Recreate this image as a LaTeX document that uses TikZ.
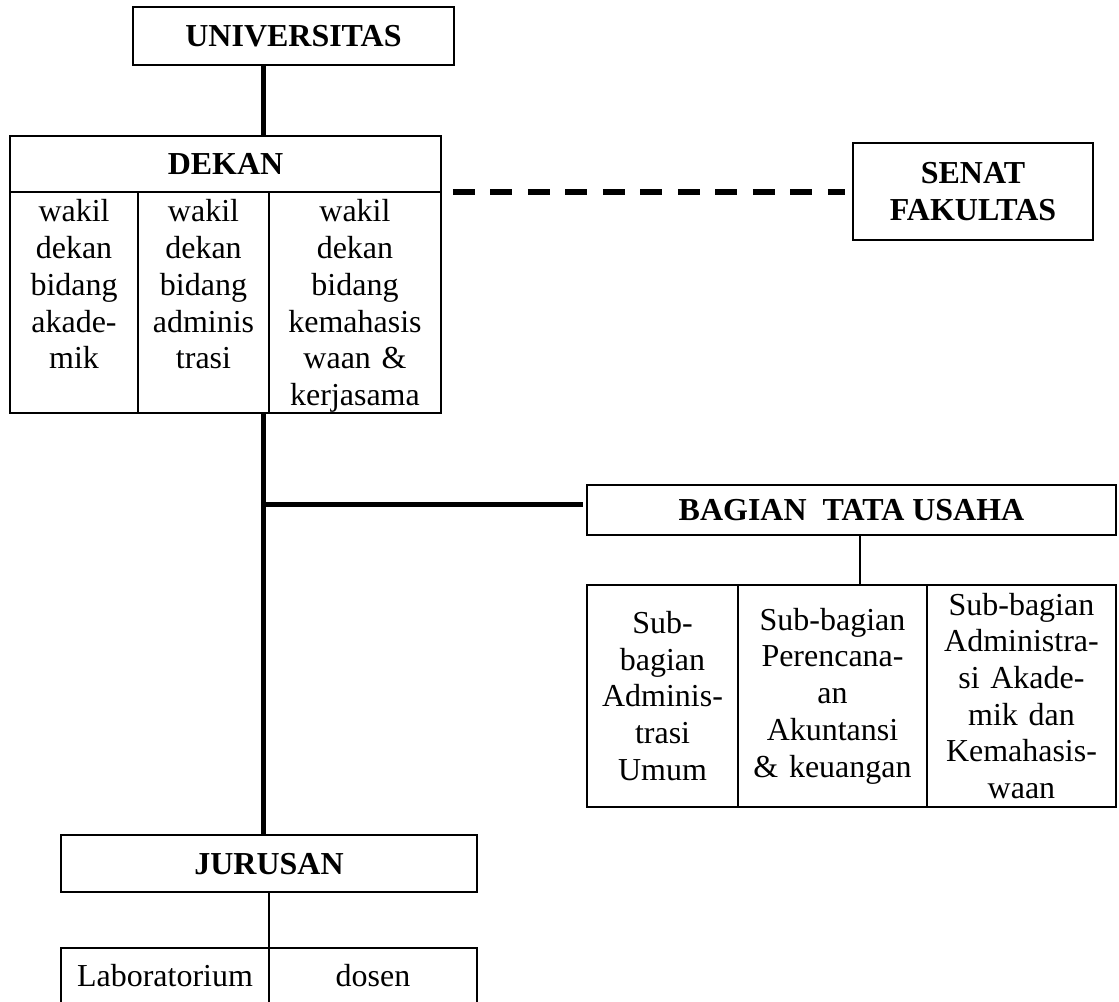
\documentclass[tikz,border=0pt]{standalone}
\usepackage{fontspec}
\setmainfont{Liberation Serif}
\usetikzlibrary{positioning}

\newcommand\orgfont{\fontsize{18.2pt}{20.9pt}\selectfont}

\tikzset{
  orgbox/.style={draw, line width=0.04cm, inner sep=0pt, outer sep=0pt, font=\orgfont\bfseries,
    text height=0.43cm, text depth=0pt},
  wakilcell/.style={draw, line width=0.04cm, inner sep=0pt, outer sep=0pt, align=center,
    anchor=north west, font=\orgfont, text height=0.6cm, text depth=3.82cm},
  subcell/.style={draw, line width=0.04cm, inner sep=0pt, outer sep=0pt, align=center,
    anchor=north west, font=\orgfont, minimum height=4.44cm},
  labcell/.style={draw, line width=0.04cm, inner sep=0pt, outer sep=0pt, align=center,
    anchor=north west, font=\orgfont, text height=0.78cm, text depth=1.2cm},
  thickline/.style={line width=0.1cm},
  thinline/.style={line width=0.04cm},
  dashline/.style={line width=0.12cm, dash pattern=on 0.44cm off 0.31cm}
}

\begin{document}
\begin{tikzpicture}[x=0.02cm,y=-0.02cm]
  \path[use as bounding box] (0,0) rectangle (1119,1001);
  \clip (0,0) rectangle (1119,1001);
  \coordinate (spine) at (263,0);

  % dekan block
  \node[orgbox, minimum width=6.42cm, minimum height=1.16cm] (univ) at (293.5,36) {UNIVERSITAS};
  \node[orgbox, minimum width=8.62cm, minimum height=1.12cm] (dekan) at (225.5,164) {DEKAN};
  \node[wakilcell, text width=2.56cm] (wk1) at (dekan.south west) {wakil\\dekan\\bidang\\akade-\\mik};
  \node[wakilcell, text width=2.62cm] (wk2) at (wk1.north east) {wakil\\dekan\\bidang\\adminis\\trasi};
  \node[wakilcell, text width=3.44cm] (wk3) at (wk2.north east) {wakil\\dekan\\bidang\\kemahasis\\waan \&\\kerjasama};
  \node[orgbox, align=center, text height=1.164cm, minimum width=4.8cm, minimum height=1.94cm] (senat) at (973,191.5) {SENAT\\FAKULTAS};

  % tata usaha
  \node[orgbox, minimum width=10.58cm, minimum height=1cm] (tu) at (851.5,510) {BAGIAN\ \ TATA USAHA};
  \node[subcell, text width=3.02cm] (sub1) at ([yshift=-1cm]tu.south west) {Sub-\\bagian\\Adminis-\\trasi\\Umum};
  \node[subcell, text width=3.78cm] (sub2) at (sub1.north east) {Sub-bagian\\Perencana-\\an\\Akuntansi\\\& keuangan};
  \node[subcell, text width=3.78cm] (sub3) at (sub2.north east) {Sub-bagian\\Administra-\\si Akade-\\mik dan\\Kemahasis-\\waan};

  % jurusan
  \node[orgbox, minimum width=8.32cm, minimum height=1.14cm] (jurusan) at (269,863.5) {JURUSAN};
  \node[labcell, text width=4.16cm] (lab) at ([yshift=-1.12cm]jurusan.south west) {Laboratorium};
  \node[labcell, text width=4.16cm] (dosen) at (lab.north east) {dosen};

  % lines
  \draw[thickline] (univ.south -| spine) -- (dekan.north -| spine);
  \draw[thickline] (wk2.south -| spine) -- (jurusan.north -| spine);
  \coordinate (tujoin) at ([xshift=-0.08cm,yshift=0.12cm]tu.west);
  \draw[thickline] (spine |- tujoin) -- (tujoin);
  \coordinate (tudrop) at ([xshift=0.17cm]tu.south);
  \draw[thinline] (tudrop) -- (tudrop |- sub2.north);
  \draw[thinline] (jurusan.south) -- (jurusan.south |- lab.north);
  \coordinate (senatfrom) at ([xshift=0.24cm]dekan.south east);
  \coordinate (senatto) at ([xshift=-0.16cm]senat.west);
  \draw[dashline] (senatfrom) -- (senatto |- senatfrom);
\end{tikzpicture}
\end{document}
